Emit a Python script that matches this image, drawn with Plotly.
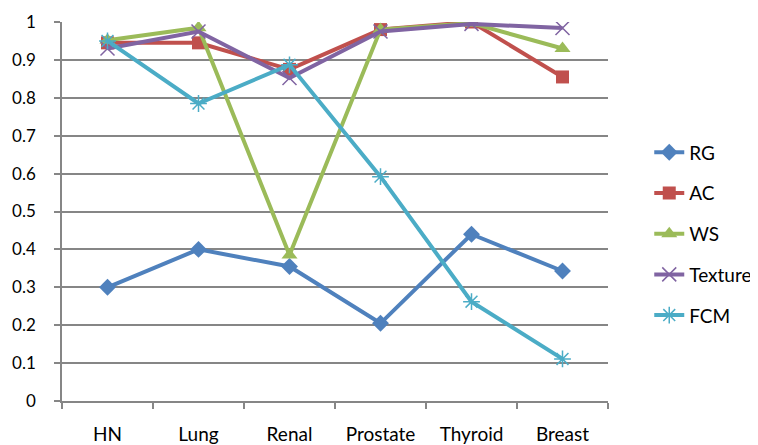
import plotly.graph_objects as go

categories = ["HN", "Lung", "Renal", "Prostate", "Thyroid", "Breast"]
rg = [0.30, 0.40, 0.355, 0.205, 0.44, 0.343]
ac = [0.945, 0.945, 0.875, 0.98, 1.0, 0.855]
ws = [0.952, 0.985, 0.385, 0.98, 0.997, 0.93]
texture = [0.93, 0.975, 0.852, 0.975, 0.995, 0.984]
fcm = [0.95, 0.785, 0.887, 0.592, 0.262, 0.111]
y_ticks = [0, 0.1, 0.2, 0.3, 0.4, 0.5, 0.6, 0.7, 0.8, 0.9, 1]
y_tick_labels = ["0", "0.1", "0.2", "0.3", "0.4", "0.5", "0.6", "0.7", "0.8", "0.9", "1"]

series = [
    ("RG", rg, "#4F81BD", "diamond", 13),
    ("AC", ac, "#C0504D", "square", 13),
    ("WS", ws, "#9BBB59", "triangle-up", 14),
    ("Texture", texture, "#8064A2", "x-thin-open", 14),
    ("FCM", fcm, "#4BACC6", "asterisk-open", 14),
]

fig = go.Figure()
for name, vals, color, sym, size in series:
    open_sym = sym.endswith("open")
    fig.add_trace(go.Scatter(
        x=categories, y=vals, name=name, mode="lines+markers",
        legendgroup=name,
        line=dict(color=color, width=4),
        marker=dict(symbol=sym, size=size, color=color,
                    line=dict(color=color, width=1.5 if open_sym else 0)),
    ))

fam = "Lato, Open Sans, sans-serif"
font = dict(family=fam, size=19, color="#000000")
yfont = dict(family=fam, size=17, color="#000000")
fig.update_layout(
    width=750, height=437,
    margin=dict(l=54, r=150, t=14, b=44, autoexpand=False),
    paper_bgcolor="white", plot_bgcolor="white",
    font=font,
    showlegend=True,
    legend=dict(xref="container", yref="container", x=0.855, xanchor="left",
                y=0.483, yanchor="middle",
                font=font, tracegroupgap=13, bgcolor="rgba(0,0,0,0)"),
    xaxis=dict(type="category", range=[-0.5, 5.5], showgrid=False, showline=True,
               linecolor="#868686", linewidth=1.5, ticks="outside",
               tickson="boundaries", ticklen=6,
               tickcolor="#868686", tickwidth=1.5, ticklabelstandoff=15,
               tickfont=font, fixedrange=True, automargin=False),
    yaxis=dict(range=[0, 1], tickvals=y_ticks, ticktext=y_tick_labels,
               showgrid=True, gridcolor="#868686", gridwidth=1.5,
               showline=True, linecolor="#868686", linewidth=1.5,
               ticks="outside", ticklen=6, tickcolor="#868686", tickwidth=1.5,
               zeroline=False, tickfont=yfont, ticklabelstandoff=15,
               fixedrange=True, automargin=False),
)

fig.write_html("out.html")
